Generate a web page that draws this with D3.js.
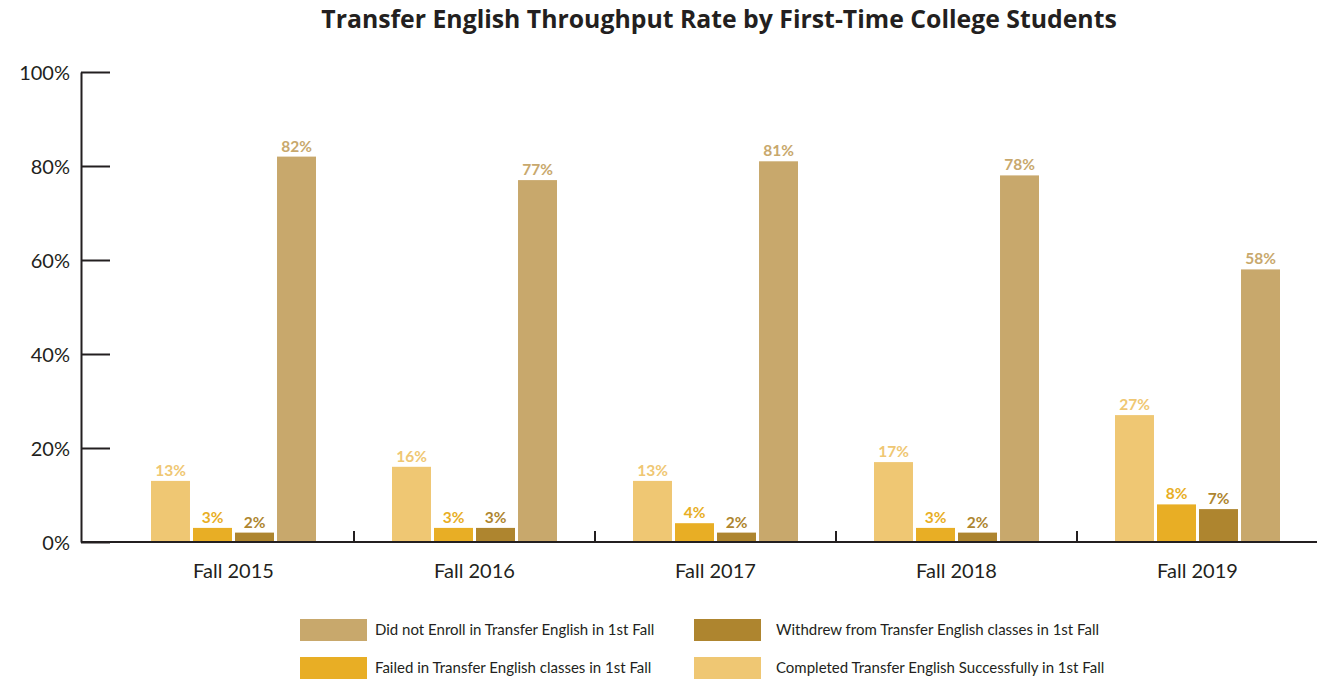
<!DOCTYPE html>
<html>
<head>
<meta charset="utf-8">
<script src="https://cdn.jsdelivr.net/npm/d3@7"></script>
<style>
  body { margin: 0; background: #fff; }
  svg { display: block; }
</style>
</head>
<body>
<svg id="chart" width="1317" height="682"></svg>
<script>
const terms = ['Fall 2015', 'Fall 2016', 'Fall 2017', 'Fall 2018', 'Fall 2019'];
const seriesNames = ['completed', 'failed', 'withdrew', 'notEnrolled'];
const completed = [13, 16, 13, 17, 27];
const failed = [3, 3, 4, 3, 8];
const withdrew = [2, 3, 2, 2, 7];
const notEnrolled = [82, 77, 81, 78, 58];
const yTicks = [0, 20, 40, 60, 80, 100];
const legendLabels = {
  notEnrolled: 'Did not Enroll in Transfer English in 1st Fall',
  withdrew: 'Withdrew from Transfer English classes in 1st Fall',
  failed: 'Failed in Transfer English classes in 1st Fall',
  completed: 'Completed Transfer English Successfully in 1st Fall'
};

const colors = {
  completed: '#efc773',
  failed: '#e8ae25',
  withdrew: '#ae852f',
  notEnrolled: '#c8a86c'
};
const values = { completed, failed, withdrew, notEnrolled };

const svg = d3.select('#chart');
const FONT = 'Lato, sans-serif';

svg.append('text')
  .attr('x', 719).attr('y', 28)
  .attr('text-anchor', 'middle')
  .style('font-family', '"Open Sans", sans-serif')
  .style('font-weight', 700)
  .style('font-size', '24.8px')
  .style('fill', '#231f20')
  .text('Transfer English Throughput Rate by First-Time College Students');

const y = d3.scaleLinear().domain([0, 100]).range([542, 72]);
const x = d3.scaleBand().domain(terms).range([113, 1318]);
const xs = d3.scaleBand().domain(seriesNames)
  .range([-82.5, 82.5]).paddingInner(0.072);

// y axis
const yAxis = svg.append('g')
  .attr('transform', 'translate(81,0)')
  .call(d3.axisRight(y).tickValues(yTicks).tickSize(29).tickSizeOuter(0)
    .tickFormat(d => d + '%'));
yAxis.select('.domain').attr('stroke', '#231f20').attr('stroke-width', 2);
yAxis.selectAll('.tick line').attr('stroke', '#231f20').attr('stroke-width', 2);
yAxis.selectAll('.tick text')
  .attr('x', -11).attr('dy', '0.35em')
  .attr('text-anchor', 'end')
  .style('font-family', FONT)
  .style('font-size', '20px')
  .style('fill', '#231f20');

// bars
const groups = svg.selectAll('.group')
  .data(terms)
  .join('g')
  .attr('class', 'group')
  .attr('transform', d => 'translate(' + (x(d) + x.bandwidth() / 2) + ',0)');

groups.each(function(term, i) {
  const g = d3.select(this);
  const rows = seriesNames.map(s => ({ key: s, value: values[s][i] }));
  g.selectAll('rect')
    .data(rows)
    .join('rect')
    .attr('x', d => xs(d.key))
    .attr('width', xs.bandwidth())
    .attr('y', d => y(d.value))
    .attr('height', d => y(0) - y(d.value))
    .attr('fill', d => colors[d.key]);
  g.selectAll('text.val')
    .data(rows)
    .join('text')
    .attr('class', 'val')
    .attr('x', d => xs(d.key) + xs.bandwidth() / 2)
    .attr('y', d => y(d.value) - 5)
    .attr('text-anchor', 'middle')
    .style('font-family', FONT)
    .style('font-weight', 700)
    .style('font-size', '15.5px')
    .style('fill', d => colors[d.key])
    .text(d => d.value + '%');
});

// x axis
const xAxis = svg.append('g')
  .attr('transform', 'translate(0,542)')
  .call(d3.axisBottom(x).tickSize(0).tickSizeOuter(0));
xAxis.select('.domain').remove();
xAxis.selectAll('.tick text')
  .attr('y', 29)
  .attr('dy', '0.35em')
  .style('font-family', FONT)
  .style('font-size', '20px')
  .style('fill', '#231f20');
svg.append('line')
  .attr('x1', 81).attr('x2', 1317)
  .attr('y1', y(0)).attr('y2', y(0))
  .attr('stroke', '#231f20').attr('stroke-width', 2);
svg.selectAll('.sep')
  .data(terms.slice(1))
  .join('line')
  .attr('class', 'sep')
  .attr('x1', d => x(d)).attr('x2', d => x(d))
  .attr('y1', y(0) - 11).attr('y2', y(0))
  .attr('stroke', '#231f20').attr('stroke-width', 2);

// legend
const legendOrder = ['notEnrolled', 'withdrew', 'failed', 'completed'];
const legend = svg.selectAll('.legend')
  .data(legendOrder)
  .join('g')
  .attr('class', 'legend')
  .attr('transform', (d, i) => 'translate(' + (i % 2 === 0 ? 300 : 694) + ',' + (i < 2 ? 619 : 657) + ')');
legend.append('rect')
  .attr('width', 67).attr('height', 22)
  .attr('fill', d => colors[d]);
legend.append('text')
  .attr('x', (d, i) => i % 2 === 0 ? 75 : 82)
  .attr('y', 11).attr('dy', '0.35em')
  .style('font-family', FONT)
  .style('font-size', '15px')
  .style('fill', '#231f20')
  .text(d => legendLabels[d]);
</script>
</body>
</html>
